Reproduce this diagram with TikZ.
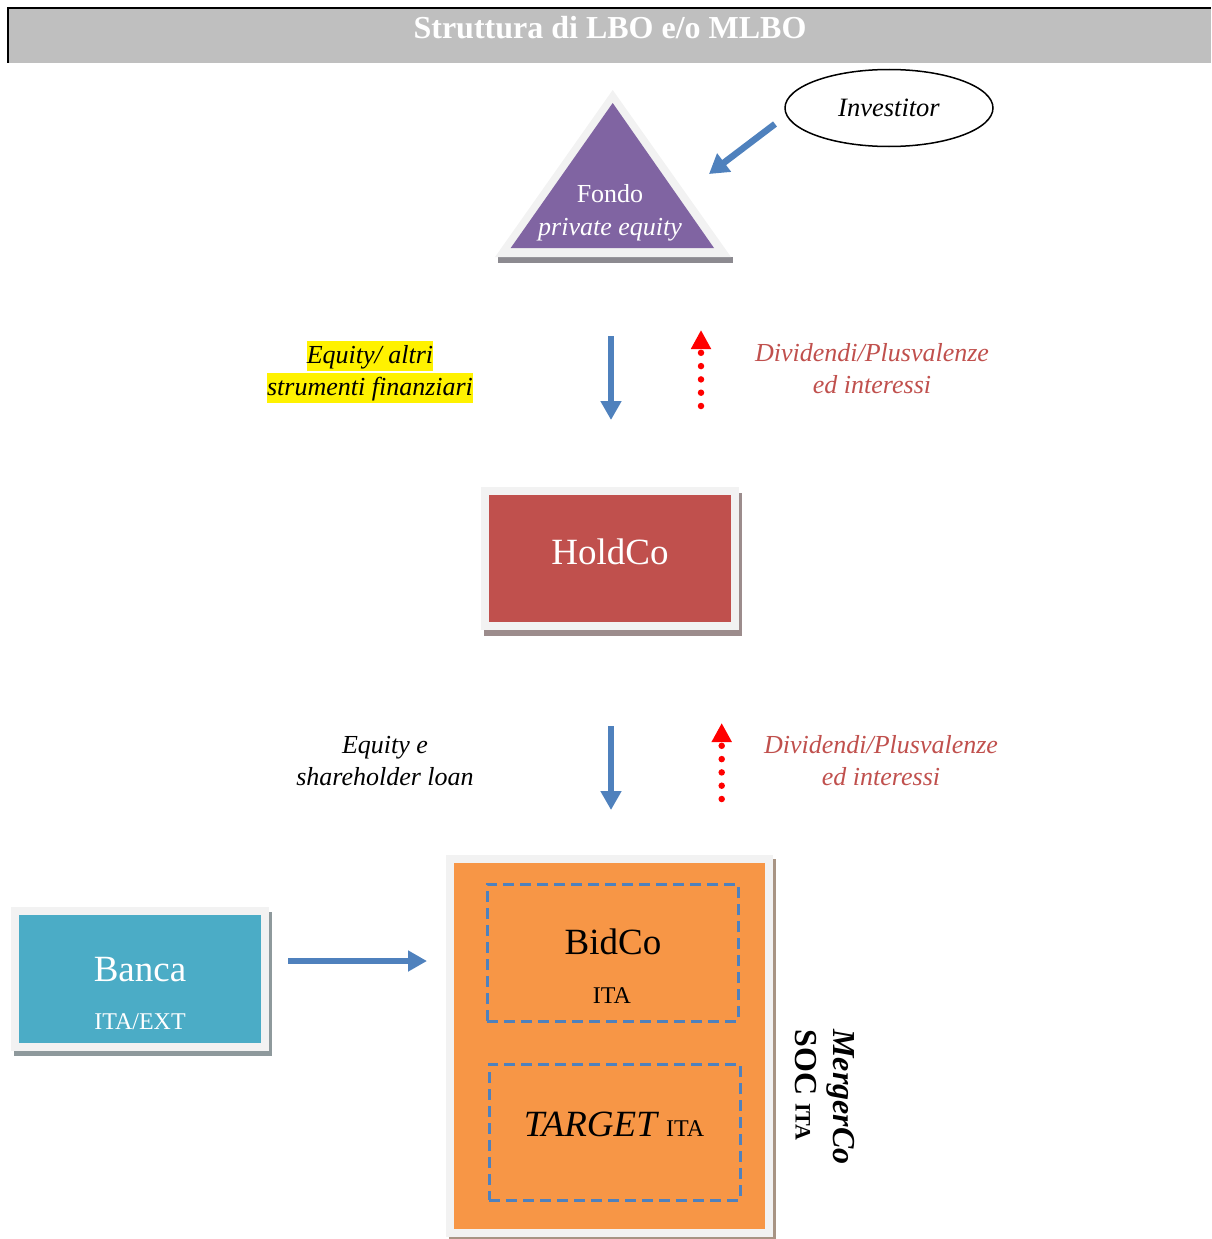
\documentclass[tikz,border=0pt]{standalone}
\usepackage{fontspec}
\setmainfont{Liberation Serif}
\usetikzlibrary{arrows.meta,calc,shapes.geometric}
\definecolor{bluearr}{HTML}{4F81BD}
\definecolor{redtxt}{HTML}{C0504D}
\definecolor{framecol}{HTML}{F2F2F2}
\definecolor{purp}{HTML}{8064A2}
\definecolor{tealcol}{HTML}{4BACC6}
\definecolor{orng}{HTML}{F79646}
\definecolor{titlegray}{HTML}{BFBFBF}
\definecolor{shdtri}{HTML}{8C8A90}
\definecolor{shdred}{HTML}{9C8C8C}
\definecolor{shdteal}{HTML}{8E999C}
\definecolor{shdorg}{HTML}{A89484}
\newcommand{\myfs}[2]{\fontsize{#1}{#2}\selectfont}
\pgfdeclarelayer{bg}
\pgfsetlayers{bg,main}
\begin{document}
\begin{tikzpicture}[x=1pt,y=-1pt,
  framebox/.style={draw=framecol, line width=8pt, inner sep=0pt},
  bluearrow/.style={draw=bluearr, line width=6.5pt, -{Triangle[width=20pt,length=19pt]}},
  reddots/.style={draw=red, line width=6.5pt, line cap=round, dash pattern=on 0pt off 13.3pt, -{Triangle[width=19pt,length=19pt]}},
  txt/.style={font=\itshape\myfs{26}{32}, align=center, inner sep=0pt},
  hl/.style={fill=yellow, font=\itshape\myfs{26}{32}, inner xsep=0pt, inner ysep=1pt, text height=21pt, text depth=7pt},
  dashbox/.style={draw=bluearr, line width=3pt, dash pattern=on 11pt off 6pt, inner sep=0pt}]
\useasboundingbox (0,0) rectangle (1211,1239);
% title bar
\fill[titlegray] (8,8) rectangle (1211,63);
\draw[line width=2pt] (8,63) -- (8,8) -- (1211,8);
\node[text=white, font=\bfseries\myfs{32}{36}] (title) at (610,28) {Struttura di LBO e/o MLBO};
% Fondo triangle
\fill[shdtri] (498,257) rectangle (733,263);
\fill[framecol] (612.7,90) -- (495,257) -- (731,257) -- cycle;
\fill[purp] (612.7,103) -- (510.7,248) -- (714,248) -- cycle;
\node[align=center, text=white, font=\myfs{26}{33}, inner sep=0pt] (fondo) at (610,213) {Fondo\\\itshape private equity};
% Investitor
\node[draw, ellipse, line width=1.5pt, minimum width=208pt, minimum height=77pt, font=\itshape\myfs{26.5}{30}] (inv) at (889,108) {Investitor};
\coordinate (a1s) at (775,124);
\coordinate (a1e) at (709,174);
\draw[bluearrow, -{Triangle[width=22pt,length=19pt]}] (a1s) -- (a1e);
% first level
\node[hl] (eq1) at (370,356) {Equity/ altri};
\node[hl] (eq2) at (370,388) {strumenti finanziari};
\coordinate (b1s) at (611,336);
\coordinate (b1e) at (611,420);
\draw[bluearrow] (b1s) -- (b1e);
\coordinate (r1s) at (701,406);
\coordinate (r1e) at (701,330);
\draw[reddots] (r1s) -- (r1e);
\node[txt, text=redtxt] (div1) at (872,369) {Dividendi/Plusvalenze\\ed interessi};
% HoldCo
\node[framebox, fill=redtxt, minimum width=250pt, minimum height=135pt] (holdco) at (610,558.5) {};
\begin{pgfonlayer}{bg}
\fill[shdred] ($(holdco.south west)+(3,6)$) rectangle ($(holdco.north east)+(3,6)$);
\end{pgfonlayer}
\node[text=white, font=\myfs{37}{40}, inner sep=0pt] (holdcot) at (610,552) {HoldCo};
% second level
\node[txt] (eqe) at (385,761) {Equity e\\shareholder loan};
\coordinate (b2s) at (611,726);
\coordinate (b2e) at (611,810);
\draw[bluearrow] (b2s) -- (b2e);
\coordinate (r2s) at (721.7,799);
\coordinate (r2e) at (721.7,723);
\draw[reddots] (r2s) -- (r2e);
\node[txt, text=redtxt] (div2) at (881,761) {Dividendi/Plusvalenze\\ed interessi};
% Banca
\node[framebox, fill=tealcol, minimum width=250pt, minimum height=136pt] (banca) at (140,979) {};
\begin{pgfonlayer}{bg}
\fill[shdteal] ($(banca.south west)+(3,5)$) rectangle ($(banca.north east)+(3,5)$);
\end{pgfonlayer}
\node[text=white, font=\myfs{37}{40}, inner sep=0pt] (bancat) at (140,970) {Banca};
\node[text=white, font=\myfs{24}{28}, inner sep=0pt] (bancas) at (140,1022) {ITA/EXT};
\coordinate (c1s) at (288,961);
\coordinate (c1e) at (427,961);
\draw[bluearrow] (c1s) -- (c1e);
% MergerCo box
\node[framebox, fill=orng, minimum width=319pt, minimum height=374pt] (merger) at (609.5,1046) {};
\begin{pgfonlayer}{bg}
\fill[shdorg] ($(merger.south west)+(3,4)$) rectangle ($(merger.north east)+(3,4)$);
\end{pgfonlayer}
\node[dashbox, minimum width=251pt, minimum height=137pt] (bidbox) at (612.5,952.5) {};
\node[font=\myfs{37}{40}, inner sep=0pt] (bidt) at (613,942) {BidCo};
\node[font=\myfs{24}{28}, inner sep=0pt] (bids) at (612,996) {ITA};
\node[dashbox, minimum width=251pt, minimum height=136pt] (tgtbox) at (614.5,1132) {};
\node[font=\myfs{37}{40}, inner sep=0pt] (tgtt) at (614,1124) {{\itshape TARGET} {\myfs{24}{28}ITA}};
\node[rotate=-90, align=left, font=\bfseries\myfs{32}{38}, inner sep=0pt] (mlabel) at (825,1097) {\itshape MergerCo\\SOC {\myfs{22}{22}ITA}};
\end{tikzpicture}
\end{document}
